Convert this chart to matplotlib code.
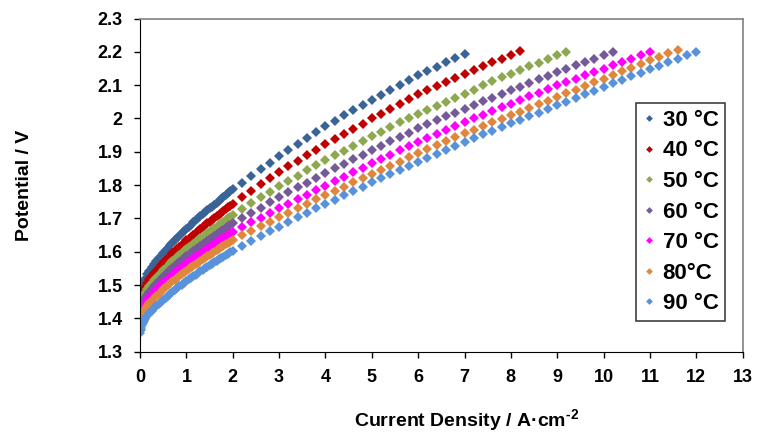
import numpy as np
import matplotlib
matplotlib.use("Agg")
import matplotlib.pyplot as plt

plt.rcParams['font.family'] = ['Liberation Sans', 'DejaVu Sans']
plt.rcParams['font.weight'] = 'bold'
plt.rcParams['mathtext.fontset'] = 'custom'
plt.rcParams['mathtext.bf'] = 'Liberation Sans:bold'
plt.rcParams['mathtext.rm'] = 'Liberation Sans:bold'
plt.rcParams['mathtext.default'] = 'bf'

# current density [A/cm2]: dense part (0-2) and 0.2 step part (2.2-12)
j_low = [0, 0.01, 0.02, 0.04, 0.06, 0.08, 0.1, 0.15, 0.2, 0.25, 0.3, 0.35, 0.4,
         0.45, 0.5, 0.55, 0.6, 0.65, 0.7, 0.75, 0.8, 0.85, 0.9, 0.95, 1.0, 1.05,
         1.1, 1.15, 1.2, 1.25, 1.3, 1.35, 1.4, 1.45, 1.5, 1.55, 1.6, 1.65, 1.7,
         1.75, 1.8, 1.85, 1.9, 1.95, 2.0]
j_high = [2.2, 2.4, 2.6, 2.8, 3.0, 3.2, 3.4, 3.6, 3.8, 4.0, 4.2, 4.4, 4.6, 4.8, 5.0,
          5.2, 5.4, 5.6, 5.8, 6.0, 6.2, 6.4, 6.6, 6.8, 7.0, 7.2, 7.4, 7.6, 7.8, 8.0,
          8.2, 8.4, 8.6, 8.8, 9.0, 9.2, 9.4, 9.6, 9.8, 10.0, 10.2, 10.4, 10.6, 10.8,
          11.0, 11.2, 11.4, 11.6, 11.8, 12.0]

# potential [V]
v30 = [1.465, 1.478, 1.487, 1.498, 1.506, 1.513, 1.519, 1.532, 1.543, 1.553, 1.562,
       1.571, 1.58, 1.588, 1.596, 1.604, 1.612, 1.62, 1.627, 1.634, 1.641, 1.648,
       1.655, 1.662, 1.669, 1.675, 1.681, 1.688, 1.694, 1.70, 1.706, 1.712, 1.718,
       1.724, 1.73, 1.735, 1.741, 1.747, 1.753, 1.759, 1.764, 1.77, 1.776, 1.781,
       1.787,
       1.807, 1.827, 1.847, 1.867, 1.887, 1.905, 1.923, 1.941, 1.959, 1.977, 1.993,
       2.009, 2.025, 2.041, 2.057, 2.072, 2.086, 2.101, 2.115, 2.130, 2.143, 2.156,
       2.169, 2.182, 2.195]
v40 = [1.445, 1.457, 1.465, 1.476, 1.483, 1.489, 1.495, 1.507, 1.517, 1.526, 1.535,
       1.543, 1.551, 1.559, 1.566, 1.574, 1.581, 1.588, 1.595, 1.601, 1.608, 1.614,
       1.621, 1.627, 1.634, 1.639, 1.645, 1.651, 1.657, 1.662, 1.668, 1.673, 1.679,
       1.685, 1.69, 1.695, 1.70, 1.706, 1.711, 1.717, 1.722, 1.727, 1.733, 1.737,
       1.743,
       1.763, 1.782, 1.802, 1.821, 1.84, 1.856, 1.873, 1.889, 1.906, 1.922, 1.938,
       1.953, 1.969, 1.984, 2.0, 2.015, 2.03, 2.045, 2.06, 2.075, 2.087, 2.099, 2.111,
       2.123, 2.135, 2.146, 2.158, 2.169, 2.18, 2.192, 2.203]
v50 = [1.43, 1.441, 1.449, 1.459, 1.466, 1.472, 1.477, 1.488, 1.498, 1.507, 1.514,
       1.522, 1.53, 1.537, 1.544, 1.551, 1.558, 1.565, 1.571, 1.577, 1.583, 1.589,
       1.595, 1.601, 1.607, 1.613, 1.618, 1.624, 1.629, 1.634, 1.64, 1.645, 1.65,
       1.655, 1.661, 1.665, 1.67, 1.675, 1.681, 1.686, 1.69, 1.695, 1.701, 1.705,
       1.71,
       1.728, 1.745, 1.763, 1.78, 1.797, 1.813, 1.828, 1.844, 1.859, 1.875, 1.889,
       1.903, 1.918, 1.932, 1.946, 1.96, 1.974, 1.988, 2.001, 2.015, 2.027, 2.039,
       2.051, 2.063, 2.075, 2.087, 2.1, 2.112, 2.124, 2.135, 2.146, 2.157, 2.168,
       2.179, 2.19, 2.20]
v60 = [1.415, 1.426, 1.433, 1.443, 1.449, 1.455, 1.46, 1.471, 1.48, 1.489, 1.496,
       1.504, 1.511, 1.518, 1.525, 1.532, 1.538, 1.545, 1.551, 1.557, 1.563, 1.569,
       1.574, 1.58, 1.586, 1.591, 1.596, 1.602, 1.607, 1.612, 1.617, 1.622, 1.627,
       1.632, 1.637, 1.642, 1.647, 1.652, 1.657, 1.662, 1.666, 1.671, 1.676, 1.68,
       1.685,
       1.701, 1.717, 1.732, 1.748, 1.763, 1.778, 1.793, 1.807, 1.822, 1.837, 1.85,
       1.864, 1.877, 1.891, 1.905, 1.918, 1.931, 1.944, 1.957, 1.97, 1.982, 1.994,
       2.006, 2.018, 2.03, 2.041, 2.052, 2.063, 2.074, 2.085, 2.096, 2.107, 2.118,
       2.129, 2.14, 2.15, 2.16, 2.17, 2.18, 2.19, 2.20]
v70 = [1.40, 1.41, 1.418, 1.427, 1.433, 1.439, 1.444, 1.454, 1.463, 1.471, 1.478,
       1.486, 1.493, 1.499, 1.506, 1.512, 1.519, 1.525, 1.531, 1.536, 1.542, 1.548,
       1.553, 1.559, 1.565, 1.569, 1.574, 1.58, 1.585, 1.59, 1.594, 1.599, 1.604,
       1.609, 1.614, 1.618, 1.623, 1.628, 1.632, 1.637, 1.641, 1.646, 1.651, 1.655,
       1.66,
       1.674, 1.688, 1.702, 1.716, 1.73, 1.743, 1.757, 1.77, 1.784, 1.797, 1.811,
       1.824, 1.838, 1.851, 1.865, 1.878, 1.891, 1.904, 1.917, 1.93, 1.942, 1.954,
       1.966, 1.978, 1.99, 2.001, 2.012, 2.023, 2.034, 2.045, 2.056, 2.067, 2.078,
       2.089, 2.10, 2.11, 2.12, 2.13, 2.14, 2.15, 2.16, 2.17, 2.18, 2.19, 2.20]
v80 = [1.385, 1.395, 1.402, 1.411, 1.417, 1.422, 1.427, 1.437, 1.446, 1.453, 1.46,
       1.467, 1.474, 1.48, 1.487, 1.493, 1.499, 1.505, 1.511, 1.516, 1.522, 1.527,
       1.532, 1.538, 1.543, 1.548, 1.553, 1.558, 1.563, 1.567, 1.572, 1.577, 1.581,
       1.586, 1.591, 1.595, 1.599, 1.604, 1.608, 1.613, 1.617, 1.622, 1.626, 1.63,
       1.635,
       1.649, 1.662, 1.676, 1.689, 1.703, 1.716, 1.73, 1.743, 1.757, 1.77, 1.783,
       1.795, 1.808, 1.82, 1.833, 1.845, 1.858, 1.87, 1.883, 1.895, 1.907, 1.919,
       1.931, 1.943, 1.955, 1.966, 1.977, 1.988, 1.999, 2.01, 2.021, 2.032, 2.043,
       2.054, 2.065, 2.076, 2.087, 2.098, 2.109, 2.12, 2.131, 2.142, 2.153, 2.164,
       2.175, 2.186, 2.196, 2.207]
v90 = [1.355, 1.365, 1.372, 1.38, 1.387, 1.392, 1.397, 1.407, 1.415, 1.423, 1.43,
       1.437, 1.444, 1.45, 1.456, 1.462, 1.468, 1.474, 1.48, 1.485, 1.491, 1.496,
       1.501, 1.507, 1.512, 1.517, 1.521, 1.527, 1.531, 1.536, 1.541, 1.545, 1.55,
       1.554, 1.559, 1.563, 1.568, 1.572, 1.577, 1.581, 1.585, 1.59, 1.594, 1.598,
       1.603,
       1.617, 1.632, 1.646, 1.661, 1.675, 1.689, 1.703, 1.716, 1.73, 1.743, 1.756,
       1.769, 1.782, 1.795, 1.808, 1.82, 1.833, 1.845, 1.858, 1.87, 1.882, 1.894,
       1.906, 1.918, 1.93, 1.941, 1.952, 1.963, 1.974, 1.985, 1.996, 2.007, 2.018,
       2.029, 2.04, 2.051, 2.062, 2.073, 2.084, 2.095, 2.106, 2.116, 2.127, 2.137,
       2.148, 2.158, 2.169, 2.179, 2.19, 2.20]

labels = ['30 °C', '40 °C', '50 °C', '60 °C', '70 °C', '80°C', '90 °C']
series = [v30, v40, v50, v60, v70, v80, v90]
colors = ['#3A6497', '#C00000', '#8EA84F', '#745A98', '#FF00FF', '#E0873E', '#5892DA']

fig = plt.figure(figsize=(7.57, 4.32), dpi=100)
ax = fig.add_axes([0.185, 0.186, 0.796, 0.771])

j_all = j_low + j_high
for v, c, lab in zip(series, colors, labels):
    ax.plot(j_all[:len(v)], v, ls='none', marker='D', ms=5.2, mew=0,
            color=c, label=lab)

ax.set_xlim(0, 13)
ax.set_ylim(1.3, 2.3)
ax.set_xticks(range(0, 14))
ax.set_yticks([1.3, 1.4, 1.5, 1.6, 1.7, 1.8, 1.9, 2.0, 2.1, 2.2, 2.3])
ax.set_yticklabels(['1.3', '1.4', '1.5', '1.6', '1.7', '1.8', '1.9', '2', '2.1',
                    '2.2', '2.3'])
ax.tick_params(direction='out', length=4, width=1, labelsize=13, pad=8.5,
               top=False, right=False)
for lb in ax.get_xticklabels() + ax.get_yticklabels():
    lb.set_fontweight('bold')
ax.spines['top'].set_color('#808080')
ax.spines['right'].set_color('#808080')
ax.spines['top'].set_linewidth(1.2)
ax.spines['right'].set_linewidth(1.2)

ax.set_ylabel('Potential / V', fontsize=14, fontweight='bold')
ax.set_xlabel(r'Current Density / A·cm$^{\text{-2}}$', fontsize=14, fontweight='bold')
ax.yaxis.set_label_coords(-0.1775, 0.5)
ax.xaxis.set_label_coords(0.5426, -0.166)

leg = ax.legend(loc='upper left', bbox_to_anchor=(0.823, 0.746), borderaxespad=0,
                fancybox=False, edgecolor='#404040', framealpha=1,
                prop={'size': 16, 'weight': 'bold'}, markerscale=0.66,
                handlelength=0.6, handletextpad=0.3, labelspacing=0.43,
                borderpad=0.3)
leg.get_frame().set_linewidth(1.2)

fig.savefig('out.png', dpi=100)
